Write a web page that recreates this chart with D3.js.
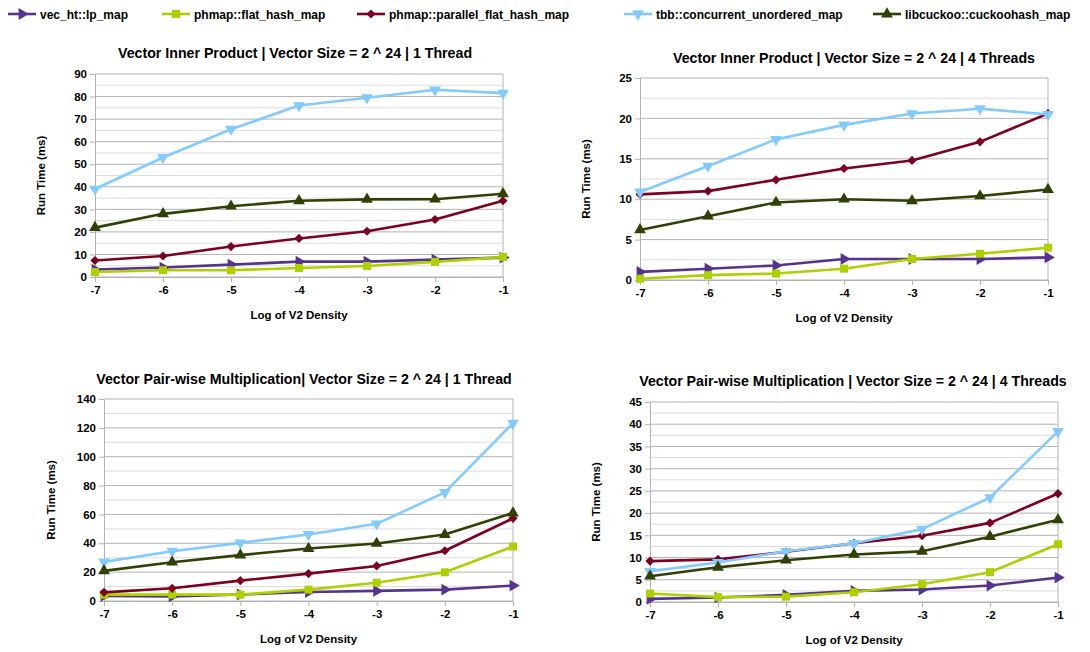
<!DOCTYPE html>
<html>
<head>
<meta charset="utf-8">
<script src="https://cdn.jsdelivr.net/npm/d3@7"></script>
<style>
  body { margin: 0; background: #fff; }
  svg { font-family: "Liberation Sans", Arial, sans-serif; font-weight: bold; }
</style>
</head>
<body>
<svg id="chart" width="1090" height="652"></svg>
<script>
const densities = [-7, -6, -5, -4, -3, -2, -1]
const seriesNames = ['vec_ht::lp_map', 'phmap::flat_hash_map', 'phmap::parallel_flat_hash_map',
    'tbb::concurrent_unordered_map', 'libcuckoo::cuckoohash_map']
const seriesColors = ['#56338f', '#aecf00', '#7e0021', '#83caff', '#314004']
const seriesMarkers = ['right', 'square', 'diamond', 'down', 'up']

// Vector Inner Product, 1 thread
const ip1_lp = [3.3, 4.2, 5.5, 6.8, 6.8, 7.7, 8.6]
const ip1_flat = [2.2, 3.0, 3.0, 4.0, 4.9, 6.7, 8.9]
const ip1_par = [7.3, 9.3, 13.5, 17.1, 20.3, 25.5, 33.8]
const ip1_tbb = [39, 53, 65.5, 76, 79.5, 83, 81.5]
const ip1_cuckoo = [21.9, 28.0, 31.4, 33.8, 34.4, 34.5, 36.9]

// Vector Inner Product, 4 threads
const ip4_lp = [1.0, 1.4, 1.8, 2.6, 2.6, 2.6, 2.8]
const ip4_flat = [0.15, 0.6, 0.8, 1.4, 2.6, 3.25, 4.0]
const ip4_par = [10.6, 11.0, 12.4, 13.8, 14.8, 17.1, 20.6]
const ip4_tbb = [10.9, 14.1, 17.4, 19.2, 20.6, 21.2, 20.5]
const ip4_cuckoo = [6.2, 7.9, 9.6, 10.0, 9.8, 10.4, 11.2]

// Vector Pair-wise Multiplication, 1 thread
const pm1_lp = [3.5, 3.2, 4.5, 6.2, 7.0, 7.9, 10.7]
const pm1_flat = [4.4, 4.4, 4.4, 7.9, 12.7, 19.9, 37.8]
const pm1_par = [6.0, 8.8, 14.1, 19.0, 24.3, 34.8, 57.3]
const pm1_tbb = [27.1, 34.5, 40.3, 46.1, 53.5, 75.3, 123.3]
const pm1_cuckoo = [20.9, 26.9, 31.8, 36.4, 39.9, 46.1, 61.0]

// Vector Pair-wise Multiplication, 4 threads
const pm4_lp = [0.7, 1.0, 1.6, 2.5, 2.8, 3.7, 5.5]
const pm4_flat = [1.9, 1.1, 1.2, 2.2, 4.0, 6.7, 13.0]
const pm4_par = [9.2, 9.6, 11.3, 13.2, 14.9, 17.8, 24.4]
const pm4_tbb = [6.9, 8.9, 11.4, 13.2, 16.4, 23.5, 38.4]
const pm4_cuckoo = [5.8, 7.8, 9.4, 10.7, 11.4, 14.7, 18.5]

const charts = [
    { title: 'Vector Inner Product | Vector Size = 2 ^ 24 | 1 Thread', titleX: 295, titleY: 58,
      box: { l: 95, r: 503, t: 74, b: 277 }, yMax: 90, step: 10,
      series: [ip1_lp, ip1_flat, ip1_par, ip1_tbb, ip1_cuckoo], yTitleX: 45 },
    { title: 'Vector Inner Product | Vector Size = 2 ^ 24 | 4 Threads', titleX: 854, titleY: 63,
      box: { l: 640, r: 1048, t: 78, b: 280 }, yMax: 25, step: 5,
      series: [ip4_lp, ip4_flat, ip4_par, ip4_tbb, ip4_cuckoo], yTitleX: 590 },
    { title: 'Vector Pair-wise Multiplication| Vector Size = 2 ^ 24 | 1 Thread', titleX: 304, titleY: 384,
      box: { l: 104, r: 513, t: 399, b: 601 }, yMax: 140, step: 20,
      series: [pm1_lp, pm1_flat, pm1_par, pm1_tbb, pm1_cuckoo], yTitleX: 55 },
    { title: 'Vector Pair-wise Multiplication | Vector Size = 2 ^ 24 | 4 Threads', titleX: 853, titleY: 386,
      box: { l: 650, r: 1058, t: 402, b: 602 }, yMax: 45, step: 5,
      series: [pm4_lp, pm4_flat, pm4_par, pm4_tbb, pm4_cuckoo], yTitleX: 600 }
]

const svg = d3.select('#chart')

function markerPath(kind) {
    if (kind === 'square') return d3.symbol(d3.symbolSquare, 64)()
    if (kind === 'diamond') return d3.symbol(d3.symbolSquare, 42)()
    return d3.symbol(d3.symbolTriangle, 60)()
}
function markerRotate(kind) {
    if (kind === 'right') return 90
    if (kind === 'down') return 180
    if (kind === 'diamond') return 45
    return 0
}

function drawChart(c) {
    const x = d3.scalePoint().domain(densities).range([c.box.l, c.box.r])
    const y = d3.scaleLinear().domain([0, c.yMax]).range([c.box.b, c.box.t])
    const g = svg.append('g')

    // minor grid
    const minor = d3.range(c.step / 2, c.yMax, c.step)
    g.append('g').selectAll('line').data(minor).join('line')
        .attr('x1', c.box.l).attr('x2', c.box.r)
        .attr('y1', d => y(d)).attr('y2', d => y(d))
        .attr('stroke', '#dddddd').attr('stroke-width', 1)

    // major grid
    const major = d3.range(0, c.yMax + c.step / 2, c.step)
    g.append('g').selectAll('line').data(major).join('line')
        .attr('x1', c.box.l).attr('x2', c.box.r)
        .attr('y1', d => y(d)).attr('y2', d => y(d))
        .attr('stroke', '#b3b3b3').attr('stroke-width', 1)

    // right border
    g.append('line')
        .attr('x1', c.box.r).attr('x2', c.box.r)
        .attr('y1', c.box.t).attr('y2', c.box.b)
        .attr('stroke', '#b3b3b3')

    // axes
    const yAxis = d3.axisLeft(y).tickValues(major).tickSize(5).tickPadding(3).tickFormat(d3.format('d'))
    const ya = g.append('g').attr('transform', `translate(${c.box.l},0)`).call(yAxis)
    const xAxis = d3.axisBottom(x).tickSize(5).tickPadding(4)
    const xa = g.append('g').attr('transform', `translate(0,${c.box.b})`).call(xAxis)
    for (const a of [ya, xa]) {
        a.select('.domain').attr('stroke', '#b3b3b3')
        a.selectAll('.tick line').attr('stroke', '#b3b3b3')
        a.selectAll('.tick text')
            .attr('fill', '#000').style('font-size', '11.5px')
            .style('font-family', '"Liberation Sans", Arial, sans-serif').style('font-weight', 'bold')
    }

    // titles
    g.append('text').attr('x', c.titleX).attr('y', c.titleY)
        .attr('text-anchor', 'middle').style('font-size', '14.2px').text(c.title)
    g.append('text').attr('x', (c.box.l + c.box.r) / 2).attr('y', c.box.b + 42)
        .attr('text-anchor', 'middle').style('font-size', '11.5px').text('Log of V2 Density')
    g.append('text')
        .attr('transform', `translate(${c.yTitleX},${(c.box.t + c.box.b) / 2}) rotate(-90)`)
        .attr('text-anchor', 'middle').style('font-size', '11.5px').text('Run Time (ms)')

    // series
    const line = d3.line().x((d, i) => x(densities[i])).y(d => y(d))
    c.series.forEach((vals, si) => {
        const sg = g.append('g')
        sg.append('path').datum(vals)
            .attr('d', line).attr('fill', 'none')
            .attr('stroke', seriesColors[si]).attr('stroke-width', 2.6)
            .attr('stroke-linejoin', 'round')
        sg.selectAll('path.mk').data(vals).join('path').attr('class', 'mk')
            .attr('d', markerPath(seriesMarkers[si]))
            .attr('transform', (d, i) => `translate(${x(densities[i])},${y(d)}) rotate(${markerRotate(seriesMarkers[si])})`)
            .attr('fill', seriesColors[si])
    })
}

charts.forEach(drawChart)

// legend
const legendX = [8, 162, 357, 624, 873]
const legend = svg.append('g')
seriesNames.forEach((name, i) => {
    const lg = legend.append('g').attr('transform', `translate(${legendX[i]},14)`)
    lg.append('line').attr('x1', 0).attr('x2', 28).attr('y1', 0).attr('y2', 0)
        .attr('stroke', seriesColors[i]).attr('stroke-width', 2.6)
    lg.append('path').attr('d', markerPath(seriesMarkers[i]))
        .attr('transform', `translate(14,0) rotate(${markerRotate(seriesMarkers[i])})`)
        .attr('fill', seriesColors[i])
    lg.append('text').attr('x', 32).attr('y', 4.5)
        .style('font-size', '12px').text(name)
})
</script>
</body>
</html>
